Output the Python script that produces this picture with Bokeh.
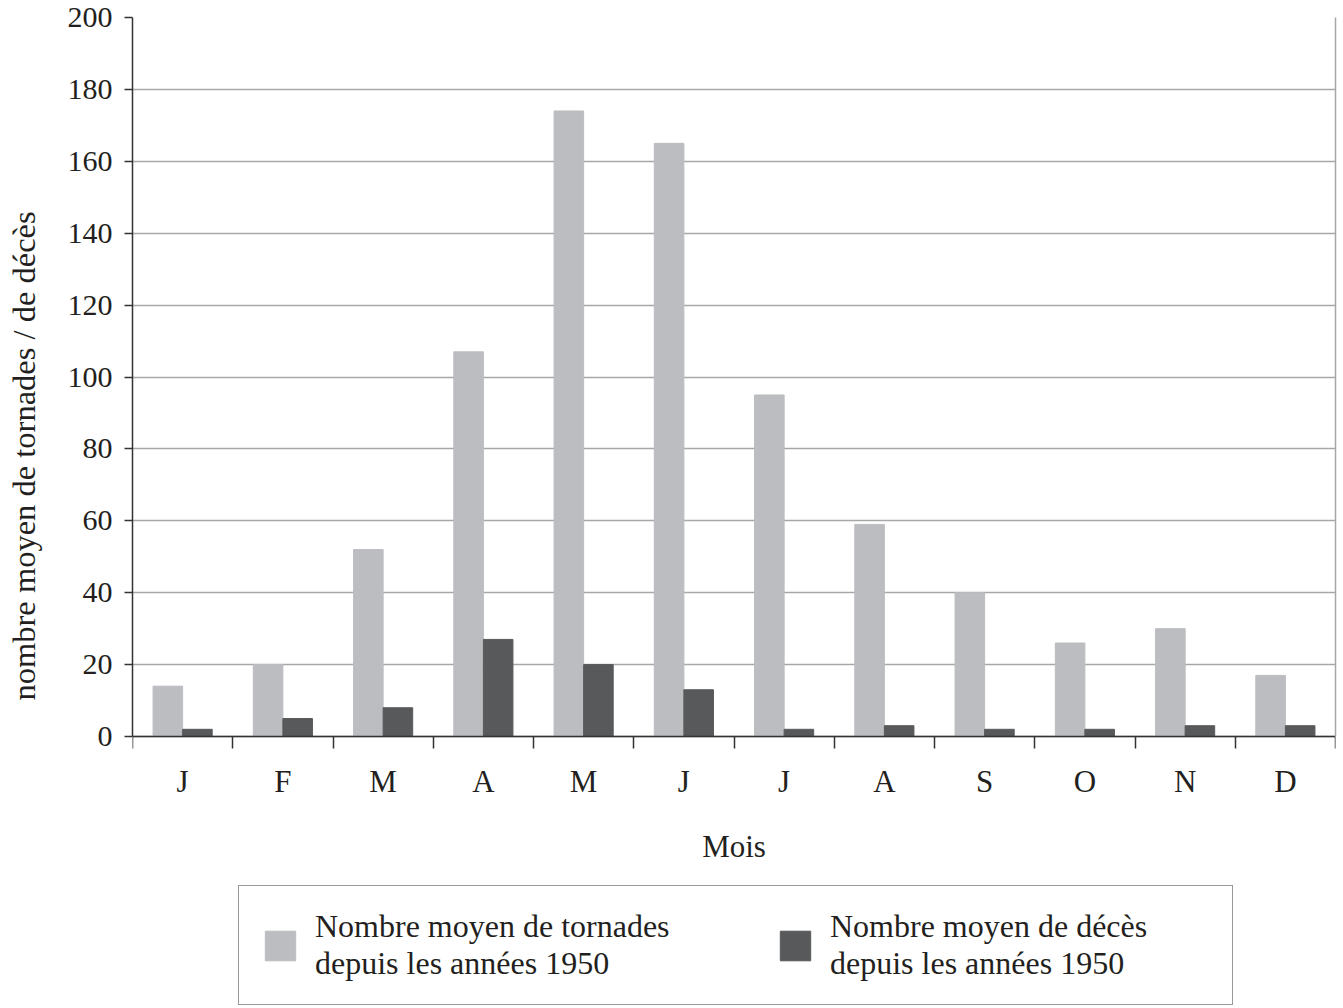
from bokeh.plotting import figure
from bokeh.models import (FixedTicker, Legend, LegendItem, Range1d, ColumnDataSource,
                          CustomJSTickFormatter, LinearAxis, Title)
from bokeh.transform import dodge
from bokeh.embed import file_html
from bokeh.resources import INLINE

# ---- data ----
months = ["J", "F", "M", "A", "M", "J", "J", "A", "S", "O", "N", "D"]
tornadoes = [14, 20, 52, 107, 174, 165, 95, 59, 40, 26, 30, 17]
deaths = [2, 5, 8, 27, 20, 13, 2, 3, 2, 2, 3, 3]
y_ticks = [0, 20, 40, 60, 80, 100, 120, 140, 160, 180, 200]
label_tornadoes = "Nombre moyen de tornades\ndepuis les années 1950"
label_deaths = "Nombre moyen de décès\ndepuis les années 1950"
x_title = "Mois"
y_title = "nombre moyen de tornades / de décès"

# ---- style ----
FONT = "Liberation Serif"
TXT = "#231f20"
LIGHT = "#bcbdc1"
DARK = "#58595b"
GRID = "#a7a7a9"
AX = "#333333"

W, H = 1343, 1008
TOP, LEFT, RIGHT = 17, 132, 8
PX_PER_UNIT = 719 / 200.0          # 200 units span 719 px
y_min = 200 - (H - TOP) / PX_PER_UNIT   # frame extends to the bottom edge (room for legend)

n = len(months)
src = ColumnDataSource(dict(x=[i + 0.5 for i in range(n)], t=tornadoes, d=deaths))

p = figure(width=W, height=H, x_range=Range1d(0, n), y_range=Range1d(y_min, 200),
           output_backend="svg", toolbar_location=None,
           x_axis_location=None, y_axis_location="left",
           min_border_left=LEFT, min_border_right=RIGHT, min_border_top=TOP, min_border_bottom=0)

bw = 0.295
r1 = p.vbar(x=dodge("x", -bw / 2), top="t", width=bw, source=src,
            fill_color=LIGHT, line_color=LIGHT)
r2 = p.vbar(x=dodge("x", bw / 2), top="d", width=bw, source=src,
            fill_color=DARK, line_color=DARK)

# x axis drawn at y = 0 inside the frame: labels at month centres, ticks at boundaries
xa = LinearAxis(fixed_location=0)
xa.ticker = FixedTicker(ticks=[i + 0.5 for i in range(n)], minor_ticks=list(range(n + 1)))
xa.formatter = CustomJSTickFormatter(args=dict(labels=months),
                                     code="return labels[Math.floor(tick)] || '';")
xa.major_tick_in = 0
xa.major_tick_out = 0
xa.major_tick_line_color = None
xa.minor_tick_in = 0
xa.minor_tick_out = 12
xa.minor_tick_line_color = AX
xa.minor_tick_line_width = 1.5
xa.axis_line_color = AX
xa.axis_line_width = 1.5
xa.major_label_standoff = 15
xa.major_label_text_font = FONT
xa.major_label_text_font_size = "31px"
xa.major_label_text_color = TXT
xa.axis_label = x_title
xa.axis_label_text_font = FONT
xa.axis_label_text_font_size = "31px"
xa.axis_label_text_font_style = "normal"
xa.axis_label_text_color = TXT
xa.axis_label_standoff = 27
p.add_layout(xa, "below")

# y axis (ticks and numbers)
ya = p.yaxis[0]
ya.bounds = (0, 200)
ya.ticker = FixedTicker(ticks=y_ticks)
ya.major_tick_in = 0
ya.major_tick_out = 8
ya.major_tick_line_color = AX
ya.major_tick_line_width = 1.5
ya.minor_tick_line_color = None
ya.axis_line_color = AX
ya.axis_line_width = 1.5
ya.major_label_standoff = 12
ya.major_label_text_font = FONT
ya.major_label_text_font_size = "30px"
ya.major_label_text_color = TXT

# invisible spacer (white tick on white) between the tick numbers and the y title
spacer = LinearAxis(ticker=FixedTicker(ticks=[100]), axis_line_color=None,
                    major_tick_in=0, major_tick_out=22, major_tick_line_color="white",
                    minor_tick_in=0, minor_tick_out=0, minor_tick_line_color=None,
                    major_label_standoff=0, major_label_text_font_size="0px",
                    major_label_text_color="white")
p.add_layout(spacer, "left")

# y title, anchored from the bottom of the left panel
yt = Title(text=y_title, align="left", vertical_align="middle", offset=308,
           text_font=FONT, text_font_size="32.5px", text_font_style="normal",
           text_color=TXT, standoff=0)
p.add_layout(yt, "left")

# right border line of the plot area (0..200)
yr = LinearAxis(bounds=(0, 200), ticker=FixedTicker(ticks=[]),
                axis_line_color=GRID, axis_line_width=1.5,
                major_tick_line_color=None, minor_tick_line_color=None,
                major_label_text_font_size="0px", major_label_standoff=0)
p.add_layout(yr, "right")

p.xgrid.visible = False
p.ygrid.ticker = FixedTicker(ticks=y_ticks)
p.ygrid.grid_line_color = GRID
p.ygrid.grid_line_width = 1.5
p.outline_line_color = None
p.background_fill_color = "white"
p.border_fill_color = "white"

legend = Legend(items=[LegendItem(label=label_tornadoes, renderers=[r1]),
                       LegendItem(label=label_deaths, renderers=[r2])],
                orientation="horizontal", location=(106, 3),
                label_text_font=FONT, label_text_font_size="32px", label_text_color=TXT,
                glyph_width=38, glyph_height=37, label_standoff=16,
                spacing=81, padding=22, label_width=380,
                border_line_color=AX, border_line_width=1.5,
                background_fill_alpha=0, margin=0)
p.add_layout(legend, "center")

open("out.html", "w").write(file_html(p, INLINE))
